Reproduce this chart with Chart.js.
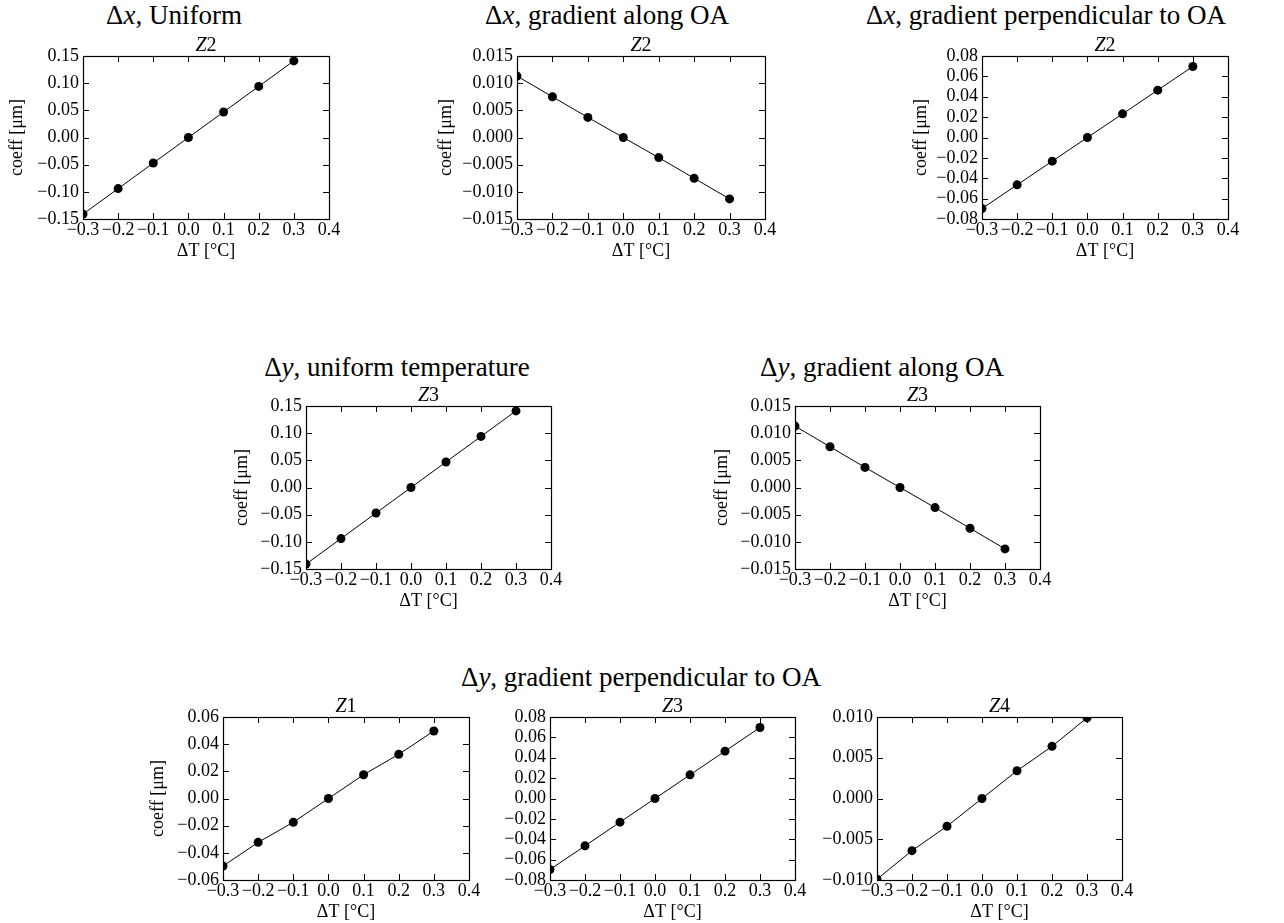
<!DOCTYPE html>
<html>
<head>
<meta charset="utf-8">
<script src="https://cdn.jsdelivr.net/npm/chart.js@4.4.0/dist/chart.umd.min.js"></script>
<style>
    body { margin: 0; background: #fff; width: 1284px; height: 923px; position: relative; overflow: hidden; }
    .box { position: absolute; }
    .txt { position: absolute; font-family: 'Liberation Serif', serif; color: #000; text-align: center; white-space: nowrap; }
</style>
</head>
<body>
<script>
// temperature offsets
const dT = [-0.3, -0.2, -0.1, 0.0, 0.1, 0.2, 0.3];
const xTicks = [-0.3, -0.2, -0.1, 0.0, 0.1, 0.2, 0.3, 0.4];

// coefficients [um]
const dxUniformZ2 = [-0.141, -0.094, -0.047, 0.0, 0.047, 0.094, 0.141];
const dxAlongZ2 = [0.0113, 0.0075, 0.0037, 0.0, -0.0037, -0.0075, -0.0113];
const dxPerpZ2 = [-0.0697, -0.0465, -0.0232, 0.0, 0.0232, 0.0465, 0.0697];
const dyUniformZ3 = [-0.141, -0.094, -0.047, 0.0, 0.047, 0.094, 0.141];
const dyAlongZ3 = [0.0113, 0.0075, 0.0037, 0.0, -0.0037, -0.0075, -0.0113];
const dyPerpZ1 = [-0.0497, -0.0323, -0.0175, 0.0, 0.0175, 0.0325, 0.0497];
const dyPerpZ3 = [-0.0697, -0.0465, -0.0232, 0.0, 0.0232, 0.0465, 0.0697];
const dyPerpZ4 = [-0.0099, -0.0064, -0.0034, 0.0, 0.0034, 0.0064, 0.0099];

// y axis limits / step / decimals
const yTicks015 = [-0.15, 0.15, 0.05, 2];
const yTicks0015 = [-0.015, 0.015, 0.005, 3];
const yTicks008 = [-0.08, 0.08, 0.02, 2];
const yTicks006 = [-0.06, 0.06, 0.02, 2];
const yTicks001 = [-0.01, 0.01, 0.005, 3];

const supTitles = [
    ["Δ<i>x</i>, Uniform", 174, 25],
    ["Δ<i>x</i>, gradient along OA", 607, 25],
    ["Δ<i>x</i>, gradient perpendicular to OA", 1046, 25],
    ["Δ<i>y</i>, uniform temperature", 397, 377],
    ["Δ<i>y</i>, gradient along OA", 882, 377],
    ["Δ<i>y</i>, gradient perpendicular to OA", 641, 687]
];

// plot boxes: left, top, right, bottom, ylabel distance (0 = none)
const panels = [
    { z: "2", data: dxUniformZ2, y: yTicks015, box: [83, 56, 329, 219], d: 66 },
    { z: "2", data: dxAlongZ2, y: yTicks0015, box: [517, 56, 765, 219], d: 71 },
    { z: "2", data: dxPerpZ2, y: yTicks008, box: [982, 56, 1228, 219], d: 61 },
    { z: "3", data: dyUniformZ3, y: yTicks015, box: [306, 406, 551, 569], d: 64 },
    { z: "3", data: dyAlongZ3, y: yTicks0015, box: [795, 406, 1040, 569], d: 73 },
    { z: "1", data: dyPerpZ1, y: yTicks006, box: [223, 717, 469, 880], d: 65 },
    { z: "3", data: dyPerpZ3, y: yTicks008, box: [550, 717, 795, 880], d: 0 },
    { z: "4", data: dyPerpZ4, y: yTicks001, box: [877, 717, 1122, 880], d: 0 }
];

const L = 90, T = 10, R = 30, B = 50;
Chart.defaults.font.family = "'Liberation Serif', serif";
Chart.defaults.color = "#000";

function fmt(v, dec) {
    if (Math.abs(v) < 1e-9) v = 0;
    const s = Math.abs(v).toFixed(dec);
    return v < 0 ? "\u2212" + s : s;
}

function addText(html, left, baseline, size, width) {
    const el = document.createElement("div");
    el.className = "txt";
    el.innerHTML = html;
    el.style.fontSize = size + "px";
    el.style.lineHeight = size + "px";
    el.style.width = width + "px";
    el.style.left = left + "px";
    el.style.top = (baseline - 0.8375 * size) + "px";
    document.body.appendChild(el);
}

// inward ticks on all four sides plus the frame
const frameTicks = {
    id: "frameTicks",
    afterDraw(chart) {
        const ctx = chart.ctx;
        const a = chart.chartArea;
        const xs = chart.scales.x, ys = chart.scales.y;
        ctx.save();
        ctx.strokeStyle = "#000";
        ctx.lineWidth = 1;
        ctx.beginPath();
        xs.ticks.forEach(t => {
            const px = Math.round(xs.getPixelForValue(t.value)) + 0.5;
            ctx.moveTo(px, a.bottom); ctx.lineTo(px, a.bottom - 6);
            ctx.moveTo(px, a.top); ctx.lineTo(px, a.top + 6);
        });
        ys.ticks.forEach(t => {
            const py = Math.round(ys.getPixelForValue(t.value)) + 0.5;
            ctx.moveTo(a.left, py); ctx.lineTo(a.left + 6, py);
            ctx.moveTo(a.right, py); ctx.lineTo(a.right - 6, py);
        });
        ctx.stroke();
        ctx.lineWidth = 1.2;
        ctx.strokeRect(Math.round(a.left) + 0.5, Math.round(a.top) + 0.5,
            Math.round(a.right - a.left), Math.round(a.bottom - a.top));
        ctx.restore();
    }
};

function makePanel(p) {
    const [x0, y0, x1, y1] = p.box;
    const w = x1 - x0, h = y1 - y0;
    const div = document.createElement("div");
    div.className = "box";
    div.style.left = (x0 - L) + "px";
    div.style.top = (y0 - T) + "px";
    div.style.width = (w + L + R) + "px";
    div.style.height = (h + T + B) + "px";
    const cv = document.createElement("canvas");
    div.appendChild(cv);
    document.body.appendChild(div);

    addText("<i>Z</i>" + p.z, x0, y0 - 5, 20, w);

    const [ymin, ymax, ystep, ydec] = p.y;
    new Chart(cv, {
        type: "line",
        data: {
            datasets: [{
                data: dT.map((t, i) => ({ x: t, y: p.data[i] })),
                borderColor: "#000",
                borderWidth: 1,
                backgroundColor: "#000",
                pointBackgroundColor: "#000",
                pointBorderWidth: 0,
                pointRadius: 4.5,
                tension: 0,
                clip: 0
            }]
        },
        options: {
            responsive: true,
            maintainAspectRatio: false,
            animation: false,
            layout: { padding: { top: T, right: R, left: 0, bottom: 0 } },
            plugins: { legend: { display: false }, tooltip: { enabled: false } },
            scales: {
                x: {
                    type: "linear",
                    min: xTicks[0],
                    max: xTicks[xTicks.length - 1],
                    grid: { display: false, drawTicks: false },
                    border: { display: false },
                    afterBuildTicks: s => { s.ticks = xTicks.map(v => ({ value: v })); },
                    ticks: {
                        autoSkip: false, maxRotation: 0, padding: 2,
                        font: { size: 18, lineHeight: 1.05 },
                        callback: v => fmt(v, 1)
                    },
                    title: {
                        display: true, text: "ΔT [°C]",
                        font: { size: 18, lineHeight: 1.2 },
                        padding: { top: 0, bottom: B - 43 }
                    },
                    afterFit: s => { s.height = B; s.paddingLeft = 0; s.paddingRight = 0; }
                },
                y: {
                    type: "linear",
                    min: ymin,
                    max: ymax,
                    grid: { display: false, drawTicks: false },
                    border: { display: false },
                    ticks: {
                        autoSkip: false, stepSize: ystep, padding: 4,
                        font: { size: 18 },
                        callback: v => fmt(v, ydec)
                    },
                    title: {
                        display: p.d > 0, text: "coeff [μm]",
                        font: { size: 18, lineHeight: 1.2 },
                        padding: { top: Math.max(L - 11 - p.d, 0), bottom: 0 }
                    },
                    afterFit: s => { s.width = L; s.paddingTop = 0; s.paddingBottom = 0; }
                }
            }
        },
        plugins: [frameTicks]
    });
}

supTitles.forEach(([t, cx, base]) => addText(t, cx - 300, base, 27, 600));
panels.forEach(makePanel);
</script>
</body>
</html>
